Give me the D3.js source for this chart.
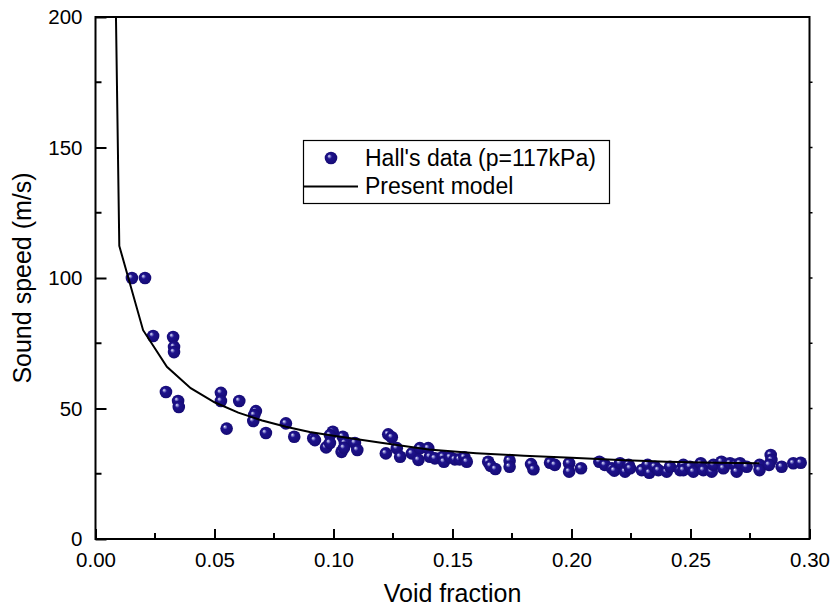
<!DOCTYPE html>
<html>
<head>
<meta charset="utf-8">
<script src="https://cdn.jsdelivr.net/npm/d3@7"></script>
<style>
  body { margin: 0; background: #fff; }
  text { font-family: "Liberation Sans", Arial, sans-serif; fill: #000; }
</style>
</head>
<body>
<div id="chart"></div>
<script>
// Hall's measured data (void fraction, sound speed m/s)
const hallVoid = [
  0.0153, 0.0208, 0.0242, 0.0326, 0.0330, 0.0330, 0.0296, 0.0347, 0.0350,
  0.0527, 0.0527, 0.0604, 0.0551, 0.0674, 0.0667, 0.0663, 0.0716, 0.0800, 0.0835, 0.0915, 0.0922,
  0.0997, 0.0985, 0.0969, 0.0985, 0.1039, 0.1048, 0.1034, 0.1044, 0.1090, 0.1100,
  0.1230, 0.1245, 0.1220, 0.1266, 0.1280, 0.1329, 0.1363, 0.1357, 0.1398, 0.1405, 0.1426,
  0.1460, 0.1464, 0.1490, 0.1510, 0.1530, 0.1550, 0.1560, 0.1650, 0.1660, 0.1680,
  0.1740, 0.1740, 0.1830, 0.1840, 0.1910, 0.1930,
  0.1990, 0.1990, 0.2040, 0.2117, 0.2140, 0.2170, 0.2180, 0.2204, 0.2225, 0.2240, 0.2246,
  0.2295, 0.2320, 0.2327, 0.2350, 0.2365, 0.2400, 0.2414, 0.2456, 0.2470,
  0.2470, 0.2498, 0.2512, 0.2543, 0.2554, 0.2589, 0.2596, 0.2630, 0.2638, 0.2666, 0.2687,
  0.2694, 0.2708, 0.2736, 0.2790, 0.2790, 0.2837, 0.2840, 0.2830, 0.2883, 0.2932, 0.2963
];
const hallSpeed = [
  100.0, 100.0, 77.8, 77.4, 73.6, 71.6, 56.3, 52.9, 50.6,
  56.0, 52.9, 52.9, 42.3, 49.0, 47.5, 45.2, 40.6, 44.3, 39.2, 38.6, 37.9,
  41.1, 39.8, 35.1, 36.8, 39.2, 36.8, 33.4, 34.9, 36.8, 34.1,
  40.1, 39.0, 32.8, 34.8, 31.5, 32.8, 34.8, 30.3, 34.8, 31.5, 30.9,
  31.5, 29.6, 31.3, 30.5, 30.5, 31.3, 29.6, 29.6, 28.0, 26.8,
  30.0, 27.7, 28.7, 26.7, 29.2, 28.4,
  29.0, 25.8, 27.1, 29.6, 28.4, 27.1, 26.2, 29.0, 25.8, 28.4, 27.1,
  26.4, 28.4, 25.4, 27.7, 26.4, 25.8, 27.7, 26.4, 28.4,
  26.4, 27.7, 25.8, 29.0, 26.4, 25.8, 28.4, 29.6, 27.1, 29.0, 28.4,
  25.8, 29.0, 27.7, 28.4, 26.4, 32.2, 30.3, 28.4, 27.7, 29.0, 29.2
];

// Present model curve
const modelVoid  = [0.0086, 0.010, 0.020, 0.030, 0.040, 0.050, 0.060, 0.070, 0.080, 0.090, 0.100,
                    0.120, 0.140, 0.160, 0.180, 0.200, 0.220, 0.240, 0.260, 0.279];
const modelSpeed = [200, 112.3, 80.0, 66.0, 57.8, 52.4, 48.4, 45.4, 43.0, 41.0, 39.6,
                    36.9, 34.3, 32.9, 31.9, 31.1, 30.3, 29.6, 29.2, 29.0];

const xTicks = [0.00, 0.05, 0.10, 0.15, 0.20, 0.25, 0.30];
const yTicks = [0, 50, 100, 150, 200];

const width = 833, height = 609;
const margin = {left: 95.5, right: 833 - 809.5, top: 17, bottom: 609 - 539};

const svg = d3.select("#chart").append("svg")
    .attr("width", width)
    .attr("height", height);

const x = d3.scaleLinear().domain([0, 0.30]).range([margin.left, width - margin.right]);
const y = d3.scaleLinear().domain([0, 200]).range([height - margin.bottom, margin.top]);

const defs = svg.append("defs");
const grad = defs.append("radialGradient")
    .attr("id", "ball")
    .attr("cx", "50%").attr("cy", "50%").attr("r", "55%")
    .attr("fx", "33%").attr("fy", "33%");
grad.append("stop").attr("offset", "0%").attr("stop-color", "#ffffff");
grad.append("stop").attr("offset", "13%").attr("stop-color", "#9494d8");
grad.append("stop").attr("offset", "34%").attr("stop-color", "#1e128c");
grad.append("stop").attr("offset", "100%").attr("stop-color", "#140a72");

defs.append("clipPath").attr("id", "plotclip")
  .append("rect")
    .attr("x", margin.left).attr("y", margin.top - 2)
    .attr("width", x(0.30) - margin.left)
    .attr("height", y(0) - margin.top + 2);

// data points
svg.append("g")
    .selectAll("circle")
    .data(hallVoid.map((v, i) => [v, hallSpeed[i]]))
    .enter()
    .append("circle")
        .attr("cx", d => x(d[0]))
        .attr("cy", d => y(d[1]))
        .attr("r", 6.3)
        .attr("fill", "url(#ball)");

// model line
const line = d3.line().x(d => x(d[0])).y(d => y(d[1]));
svg.append("path")
    .datum(modelVoid.map((v, i) => [v, modelSpeed[i]]))
    .attr("clip-path", "url(#plotclip)")
    .attr("d", line)
    .attr("fill", "none")
    .attr("stroke", "#000")
    .attr("stroke-width", 2);

// axes
const xAxis = d3.axisBottom(x).tickValues(xTicks).tickFormat(d3.format(".2f"))
    .tickSizeInner(-10).tickSizeOuter(0).tickPadding(13);
const gx = svg.append("g")
    .attr("transform", `translate(0,${y(0)})`)
    .call(xAxis);

const yAxis = d3.axisLeft(y).tickValues(yTicks).tickFormat(d3.format("d"))
    .tickSizeInner(-11).tickSizeOuter(0).tickPadding(13);
const gy = svg.append("g")
    .attr("transform", `translate(${x(0)},0)`)
    .call(yAxis);

[gx, gy].forEach(g => {
    g.select(".domain").remove();
    g.selectAll(".tick line").attr("stroke", "#000").attr("stroke-width", 2);
    g.selectAll(".tick text").style("font-size", "20.5px").attr("fill", "#000")
        .style("font-family", "'Liberation Sans', Arial, sans-serif");
});
gy.selectAll(".tick text").attr("dy", "0.34em");

// minor ticks
const xMinor = d3.range(0.025, 0.30, 0.05);
svg.append("g").selectAll("line").data(xMinor).enter().append("line")
    .attr("x1", d => x(d)).attr("x2", d => x(d))
    .attr("y1", y(0)).attr("y2", y(0) - 6)
    .attr("stroke", "#000").attr("stroke-width", 2);
const yMinor = [25, 75, 125, 175];
svg.append("g").selectAll("line").data(yMinor).enter().append("line")
    .attr("x1", x(0)).attr("x2", x(0) + 6)
    .attr("y1", d => y(d)).attr("y2", d => y(d))
    .attr("stroke", "#000").attr("stroke-width", 2);

// right axis small ticks
svg.append("g").selectAll("line").data(d3.range(25, 200, 25)).enter().append("line")
    .attr("x1", x(0.30)).attr("x2", x(0.30) + 3)
    .attr("y1", d => y(d)).attr("y2", d => y(d))
    .attr("stroke", "#000").attr("stroke-width", 1.5);

// frame
svg.append("rect")
    .attr("x", x(0)).attr("y", y(200))
    .attr("width", x(0.30) - x(0)).attr("height", y(0) - y(200))
    .attr("fill", "none").attr("stroke", "#000").attr("stroke-width", 2);

// axis titles
svg.append("text")
    .attr("x", x(0.15)).attr("y", 602)
    .attr("text-anchor", "middle")
    .style("font-size", "25px")
    .text("Void fraction");
svg.append("text")
    .attr("transform", `translate(31,${y(100)}) rotate(-90)`)
    .attr("text-anchor", "middle")
    .style("font-size", "25px")
    .text("Sound speed (m/s)");

// legend
const lg = svg.append("g");
lg.append("rect")
    .attr("x", 303.5).attr("y", 140.5).attr("width", 306).attr("height", 63)
    .attr("fill", "#fff").attr("stroke", "#000").attr("stroke-width", 1.2);
lg.append("circle").attr("cx", 331).attr("cy", 158).attr("r", 6.3).attr("fill", "url(#ball)");
lg.append("line").attr("x1", 303.5).attr("x2", 358).attr("y1", 186.5).attr("y2", 186.5)
    .attr("stroke", "#000").attr("stroke-width", 2);
lg.append("text").attr("x", 365).attr("y", 166).style("font-size", "23px")
    .text("Hall's data (p=117kPa)");
lg.append("text").attr("x", 365).attr("y", 194).style("font-size", "23px")
    .text("Present model");
</script>
</body>
</html>
